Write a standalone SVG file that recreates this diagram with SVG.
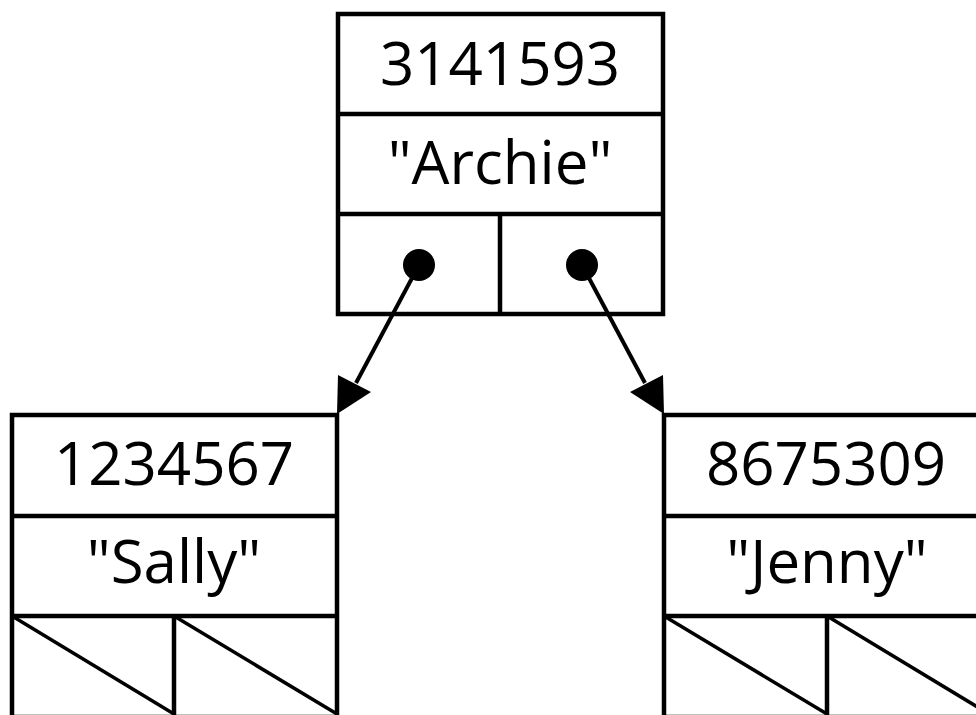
<svg xmlns="http://www.w3.org/2000/svg" width="976" height="715" viewBox="0 0 976 715">
<style>
.box{fill:#fff;stroke:#000;stroke-width:4.5}
.ln{stroke:#000;stroke-width:4.5;fill:none}
.dg{stroke:#000;stroke-width:3.5;fill:none}
.t{font-family:"Open Sans","Liberation Sans",sans-serif;font-size:60px;text-anchor:middle;fill:#000}
.conn{stroke:#000;stroke-width:4;fill:none}
</style>
<rect width="976" height="715" fill="#fff"/>
<g id="node-archie">
<rect class="box" x="338" y="14" width="325" height="300"/>
<line class="ln" x1="338" y1="114" x2="663" y2="114"/>
<line class="ln" x1="338" y1="214" x2="663" y2="214"/>
<line class="ln" x1="500" y1="214" x2="500" y2="314"/>
<text class="t" x="500" y="85">3141593</text>
<text class="t" x="500" y="184">"Archie"</text>
<circle cx="419" cy="265" r="16" fill="#000"/>
<circle cx="582" cy="265" r="16" fill="#000"/>
</g>
<g id="node-sally">
<rect class="box" x="12" y="415" width="325" height="302"/>
<line class="ln" x1="12" y1="516" x2="337" y2="516"/>
<line class="ln" x1="12" y1="616" x2="337" y2="616"/>
<line class="ln" x1="174" y1="616" x2="174" y2="717"/>
<line class="dg" x1="12" y1="616" x2="174" y2="714"/>
<line class="dg" x1="174" y1="616" x2="337" y2="714"/>
<text class="t" x="174" y="485">1234567</text>
<text class="t" x="174" y="583">"Sally"</text>
</g>
<g id="node-jenny">
<rect class="box" x="664" y="415" width="325" height="302"/>
<line class="ln" x1="664" y1="516" x2="989" y2="516"/>
<line class="ln" x1="664" y1="616" x2="989" y2="616"/>
<line class="ln" x1="827" y1="616" x2="827" y2="717"/>
<line class="dg" x1="664" y1="616" x2="827" y2="714"/>
<line class="dg" x1="827" y1="616" x2="989" y2="714"/>
<text class="t" x="826" y="485">8675309</text>
<text class="t" x="827" y="583">"Jenny"</text>
</g>
<g id="connectors">
<line class="conn" x1="419" y1="265" x2="356" y2="383"/>
<polygon points="338,375 371,392 337,414" fill="#000"/>
<line class="conn" x1="582" y1="265" x2="645" y2="383"/>
<polygon points="663,375 630,392 664,414" fill="#000"/>
</g>
</svg>
